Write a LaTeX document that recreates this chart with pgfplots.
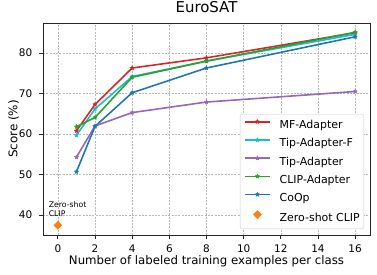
\documentclass[border=0pt]{standalone}
\usepackage{fontspec}
\setmainfont{DejaVu Sans}
\usepackage{pgfplots}
\pgfplotsset{compat=1.18}
\definecolor{tred}{HTML}{D62728}
\definecolor{tcyan}{HTML}{17BECF}
\definecolor{tpurple}{HTML}{9467BD}
\definecolor{tgreen}{HTML}{2CA02C}
\definecolor{tblue}{HTML}{1F77B4}
\definecolor{torange}{HTML}{FF7F0E}
\pgfdeclareplotmark{fstar}{%
  \pgfpathmoveto{\pgfpointpolar{90}{\pgfplotmarksize}}%
  \pgfpathlineto{\pgfpointpolar{126}{0.5\pgfplotmarksize}}%
  \pgfpathlineto{\pgfpointpolar{162}{\pgfplotmarksize}}%
  \pgfpathlineto{\pgfpointpolar{198}{0.5\pgfplotmarksize}}%
  \pgfpathlineto{\pgfpointpolar{234}{\pgfplotmarksize}}%
  \pgfpathlineto{\pgfpointpolar{270}{0.5\pgfplotmarksize}}%
  \pgfpathlineto{\pgfpointpolar{306}{\pgfplotmarksize}}%
  \pgfpathlineto{\pgfpointpolar{342}{0.5\pgfplotmarksize}}%
  \pgfpathlineto{\pgfpointpolar{18}{\pgfplotmarksize}}%
  \pgfpathlineto{\pgfpointpolar{54}{0.5\pgfplotmarksize}}%
  \pgfpathclose
  \pgfusepathqfillstroke}
\pgfplotsset{ser/.style={color=#1, line width=1.6bp, mark=fstar, mark size=2.2bp, mark options={solid, line width=0.4bp}}}
\begin{document}
\begin{tikzpicture}
\begin{axis}[name=ax, scale only axis, width=327bp, height=212bp,
  xmin=-0.8, xmax=16.8, ymin=35.1, ymax=87.4,
  xtick={0,2,...,16}, ytick={40,50,...,80},
  xtick pos=bottom, ytick pos=left,
  tick align=outside, major tick length=3.5bp,
  tick style={black!85, line width=0.8bp},
  axis line style={black!85, line width=0.9bp},
  grid=major, grid style={gray!55, dash pattern=on 2bp off 1.3bp, line width=0.6bp},
  tick label style={font=\fontsize{10.5}{12}\selectfont},
  /pgf/number format/assume math mode=true,
  xticklabel style={anchor=base, inner sep=0pt, yshift=-14.3bp},
  yticklabel style={anchor=east, inner sep=0pt, xshift=-7bp},
  title={EuroSAT},
  title style={font=\fontsize{15}{18}\selectfont, at={(axis description cs:0.5,1.022)}, anchor=base, inner sep=0pt},
  xlabel={Number of labeled training examples per class},
  xlabel style={font=\fontsize{11.8}{14}\selectfont, at={(axis description cs:0.5,-0.1415)}, anchor=base, inner sep=0pt},
  ylabel={Score (\%)},
  ylabel style={font=\fontsize{12}{14}\selectfont, at={(axis description cs:-0.0786,0.5)}, anchor=base, inner sep=0pt},
  legend cell align=left,
  legend style={at={(axis description cs:1,0)}, anchor=south east, xshift=-6bp, yshift=6bp,
    draw=gray!40, rounded corners=2.5bp, fill=white,
    inner xsep=4bp, inner ysep=5.3bp, row sep=7.1bp,
    font=\fontsize{11}{13}\selectfont,
    nodes={inner sep=0pt, text height=8bp, text depth=2bp},
    /tikz/every odd column/.style={column sep=9bp}},
  legend image code/.code={\draw[mark repeat=2, mark phase=2] plot coordinates {(0bp,3.9bp)(12.5bp,3.9bp)(25bp,3.9bp)};},
  clip=false
]
\addplot[ser=tred] coordinates {(1,60.8)(2,67.3)(4,76.3)(8,78.8)(16,85.0)};
\addlegendentry{MF-Adapter}
\addplot[ser=tcyan] coordinates {(1,59.7)(2,66.2)(4,74.2)(8,78.0)(16,84.6)};
\addlegendentry{Tip-Adapter-F}
\addplot[ser=tpurple] coordinates {(1,54.3)(2,62.0)(4,65.3)(8,67.9)(16,70.5)};
\addlegendentry{Tip-Adapter}
\addplot[ser=tgreen] coordinates {(1,61.8)(2,64.1)(4,74.0)(8,78.0)(16,85.1)};
\addlegendentry{CLIP-Adapter}
\addplot[ser=tblue] coordinates {(1,50.7)(2,61.9)(4,70.2)(8,76.3)(16,84.0)};
\addlegendentry{CoOp}
\addplot[only marks, color=torange, mark=square*, mark size=2.9bp, mark options={rotate=45, line width=0.3bp}] coordinates {(0,37.5)};
\addlegendentry{Zero-shot CLIP}
\node[anchor=base west, font=\fontsize{7.8}{9}\selectfont, inner sep=0pt] at (axis cs:-0.5,42) {Zero-shot};
\node[anchor=base west, font=\fontsize{7.8}{9}\selectfont, inner sep=0pt] at (axis cs:-0.5,39.75) {CLIP};
\end{axis}
\path ([xshift=-43bp,yshift=-40bp]ax.south west) rectangle ([xshift=7bp,yshift=23bp]ax.north east);
\end{tikzpicture}
\end{document}
